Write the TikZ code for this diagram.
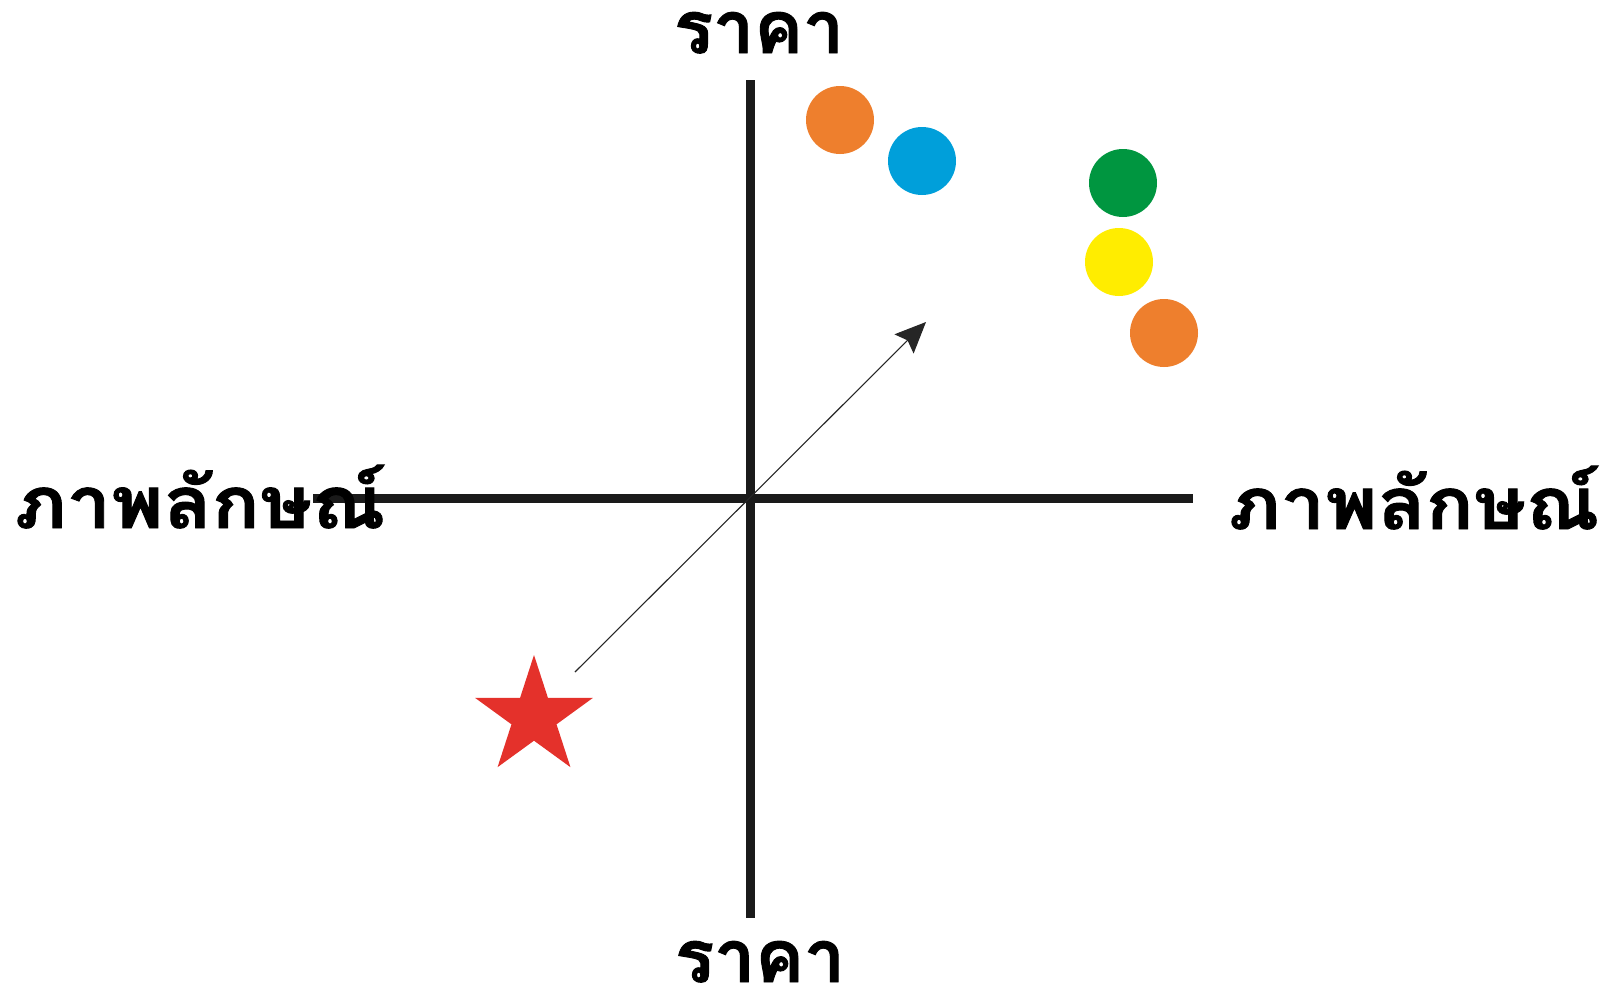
\documentclass[tikz,border=0pt]{standalone}
\usepackage{fontspec}
\newfontfamily\thaifont[Script=Thai,FakeBold=1.3]{Loma}
\newfontfamily\thaiwide[Script=Thai,FakeStretch=1.1,FakeBold=1.3]{Loma}
\usetikzlibrary{shapes.geometric,arrows.meta}
\definecolor{dotorange}{HTML}{EE7F2D}
\definecolor{dotblue}{HTML}{009FDA}
\definecolor{dotgreen}{HTML}{009640}
\definecolor{dotyellow}{HTML}{FFED00}
\definecolor{starred}{HTML}{E4312B}
\definecolor{axisblack}{HTML}{1A1A1A}
\tikzset{
  axisline/.style={line width=9pt, axisblack},
  dot/.style={circle, inner sep=0pt, minimum size=68pt, fill=#1},
  lbl/.style={font=\thaifont\bfseries\fontsize{73}{80}\selectfont, inner sep=0pt, text=black, anchor=base, text depth=0pt},
  lblwide/.style={lbl, font=\thaiwide\bfseries\fontsize{72}{80}\selectfont},
  arrowline/.style={line width=1.1pt, black!85, -{Stealth[length=31pt,width=27pt,inset=5pt]}}
}
\begin{document}
\begin{tikzpicture}[x=1pt,y=-1pt]
\useasboundingbox (0,0) rectangle (1615,1001);
\fill[white] (0,0) rectangle (1615,1001);
% axes
\coordinate (vtop) at (750,80);
\coordinate (vbot) at (750,918);
\coordinate (hleft) at (313,498);
\coordinate (hright) at (1193,498);
\draw[axisline] (vtop) -- (vbot);
\draw[axisline] (hleft) -- (hright);
% dots
\node[dot=dotorange] (o1) at (840,120) {};
\node[dot=dotblue] (b1) at (922,161) {};
\node[dot=dotgreen] (g1) at (1123,183) {};
\node[dot=dotyellow] (y1) at (1119,262) {};
\node[dot=dotorange] (o2) at (1164,333) {};
% star
\node[star, star points=5, star point ratio=2.618, minimum size=124pt, inner sep=0pt, fill=starred, draw=none] (st) at (534,717) {};
% arrow
\coordinate (astart) at (575,672);
\coordinate (aend) at (926,322);
\draw[arrowline] (astart) -- (aend);
% labels
\node[lbl] (ltop) at (759,53) {ราคา};
\node[lbl] (lbot) at (760,982) {ราคา};
\node[lblwide] (lleft) at (200,528) {ภาพลักษณ์};
\node[lblwide] (lright) at (1414,529) {ภาพลักษณ์};
\end{tikzpicture}
\end{document}
